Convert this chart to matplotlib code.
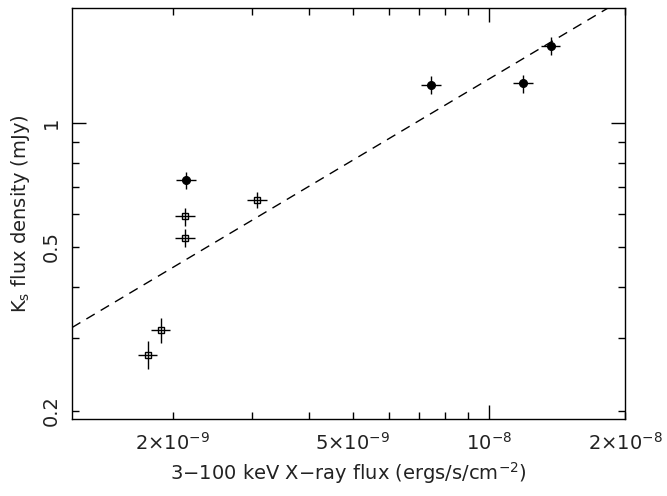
import matplotlib as mpl
mpl.use('Agg')
import matplotlib.pyplot as plot
import matplotlib.ticker as ticker
import numpy as np

# filled circles
CIRCLE_X = [2.14e-9, 7.45e-9, 1.19e-8, 1.37e-8]
CIRCLE_Y = [0.725, 1.234, 1.246, 1.538]
CIRCLE_XERR = [0.05, 0.05, 0.05, 0.05]     # fractional
CIRCLE_YERR = [0.045, 0.05, 0.05, 0.048]

# open squares
SQUARE_X = [2.13e-9, 2.13e-9, 3.07e-9, 1.88e-9, 1.76e-9]
SQUARE_Y = [0.593, 0.526, 0.650, 0.314, 0.274]
SQUARE_XERR = [0.05, 0.05, 0.05, 0.05, 0.05]
SQUARE_YERR = [0.05, 0.05, 0.045, 0.07, 0.08]

# power law fit: y = NORM * (x / 1e-8) ** INDEX
FIT_NORM = 1.277
FIT_INDEX = 0.654

X_LIMIT = (1.197e-9, 2e-8)
Y_LIMIT = (0.191, 1.90)

X_LABELED = {2e-9: r'2$\times$10$^{-9}$', 5e-9: r'5$\times$10$^{-9}$',
             1e-8: r'10$^{-8}$', 2e-8: r'2$\times$10$^{-8}$'}
Y_LABELED = {0.2: '0.2', 0.5: '0.5', 1.0: '1'}

X_LABEL = "3\u2212100 keV X\u2212ray flux (ergs/s/cm$^{-2}$)"
Y_LABEL = "K$_\\mathrm{s}$ flux density (mJy)"

FONT_SIZE = 14
TEXT_COLOR = '#222222'

mpl.rcParams['font.family'] = 'DejaVu Sans'
mpl.rcParams['mathtext.default'] = 'regular'

fig = plot.figure(figsize=(6.67, 4.96), dpi=100)
ax = fig.add_axes([0.108, 0.155, 0.829, 0.829])

cx = np.array(CIRCLE_X)
cy = np.array(CIRCLE_Y)
ax.errorbar(cx, cy, xerr=cx * np.array(CIRCLE_XERR), yerr=cy * np.array(CIRCLE_YERR),
            fmt='o', ms=5.5, mfc='black', mec='black', ecolor='black', elinewidth=1, capsize=0)

sx = np.array(SQUARE_X)
sy = np.array(SQUARE_Y)
ax.errorbar(sx, sy, xerr=sx * np.array(SQUARE_XERR), yerr=sy * np.array(SQUARE_YERR),
            fmt='s', ms=4.5, mfc='none', mec='black', mew=1, ecolor='black', elinewidth=1, capsize=0)

fit_x = np.logspace(np.log10(X_LIMIT[0]), np.log10(X_LIMIT[1]), 100)
fit_y = FIT_NORM * (fit_x / 1e-8) ** FIT_INDEX
ax.plot(fit_x, fit_y, color='black', lw=1, dashes=(7, 5))

ax.set_xscale('log')
ax.set_yscale('log')
ax.set_xlim(*X_LIMIT)
ax.set_ylim(*Y_LIMIT)

x_minor = [2e-9, 3e-9, 4e-9, 5e-9, 6e-9, 7e-9, 8e-9, 9e-9, 2e-8]
y_minor = [0.2, 0.3, 0.4, 0.5, 0.6, 0.7, 0.8, 0.9]
ax.xaxis.set_major_locator(ticker.FixedLocator([1e-8]))
ax.xaxis.set_minor_locator(ticker.FixedLocator(x_minor))
ax.yaxis.set_major_locator(ticker.FixedLocator([1.0]))
ax.yaxis.set_minor_locator(ticker.FixedLocator(y_minor))

def xfmt(v, pos):
    for k, s in X_LABELED.items():
        if abs(v / k - 1) < 1e-3:
            return s
    return ''

def yfmt(v, pos):
    for k, s in Y_LABELED.items():
        if abs(v / k - 1) < 1e-3:
            return s
    return ''

ax.xaxis.set_major_formatter(ticker.FuncFormatter(xfmt))
ax.xaxis.set_minor_formatter(ticker.FuncFormatter(xfmt))
ax.yaxis.set_major_formatter(ticker.FuncFormatter(yfmt))
ax.yaxis.set_minor_formatter(ticker.FuncFormatter(yfmt))

ax.tick_params(which='both', direction='in', top=True, right=True, width=1,
               labelsize=FONT_SIZE, labelcolor=TEXT_COLOR)
ax.tick_params(which='major', length=10)
ax.tick_params(which='minor', length=5)
ax.tick_params(axis='x', which='both', pad=9)
ax.tick_params(axis='y', which='both', labelrotation=90, pad=8)
for lab in ax.get_yticklabels(which='both'):
    lab.set_verticalalignment('center')

for sp in ax.spines.values():
    sp.set_linewidth(1)

ax.set_xlabel(X_LABEL, fontsize=FONT_SIZE, color=TEXT_COLOR)
ax.set_ylabel(Y_LABEL, fontsize=FONT_SIZE, color=TEXT_COLOR)
ax.xaxis.set_label_coords(0.5, -0.1)
ax.yaxis.set_label_coords(-0.072, 0.5)

plot.savefig('out.png', dpi=100)
